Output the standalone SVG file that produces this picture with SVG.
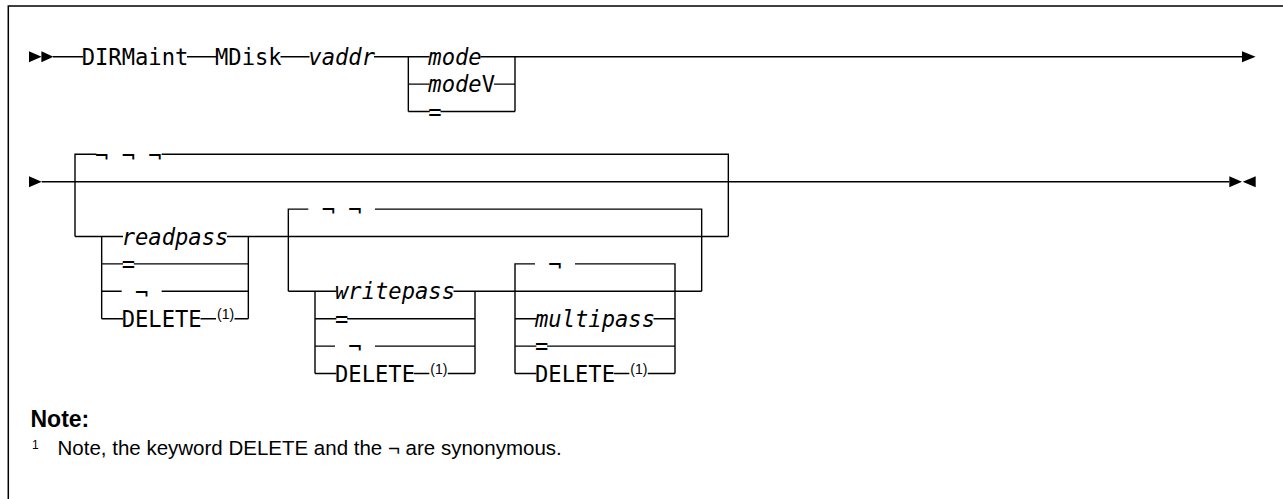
<svg xmlns="http://www.w3.org/2000/svg" width="1283" height="499" viewBox="0 0 1283 499">
<style>
.ln{stroke:#000;stroke-width:1.4;fill:none}
.fr{stroke:#000;stroke-width:1.5;fill:none}
.ar{fill:#000;stroke:none}
.t{font-family:"DejaVu Sans Mono","Liberation Mono",monospace;font-size:22.15px;fill:#000}
.i{font-style:italic}
.sup{font-family:"Liberation Sans",Arial,sans-serif;font-size:14px;fill:#000}
.nb{font-family:"Liberation Sans",Arial,sans-serif;font-size:23px;font-weight:bold;fill:#000}
.nt{font-family:"Liberation Sans",Arial,sans-serif;font-size:20.5px;fill:#000}
.ns{font-family:"Liberation Sans",Arial,sans-serif;font-size:12px;fill:#000}
</style>
<rect width="1283" height="499" fill="#fff"/>
<path class="fr" d="M8.3,499 V6 H1283"/>

<g id="connectors">
  <!-- row 1 -->
  <path class="ln" d="M53,56.7 H83 M187,56.7 H216.5 M280.5,56.7 H309.5 M374,56.7 H429.5 M480.5,56.7 H1242"/>
  <path class="ln" d="M408.33,56.7 V111.5 M515,56.7 V111.5"/>
  <path class="ln" d="M408.33,84.1 H429.5 M494,84.1 H515"/>
  <path class="ln" d="M408.33,111.5 H429.8 M440.5,111.5 H515"/>
  <!-- row 2 main -->
  <path class="ln" d="M41.67,181.7 H1229.3"/>
  <!-- big loop -->
  <path class="ln" d="M75,236.5 V154.3 H96.5 M161.67,154.3 H728.33 V236.5"/>
  <path class="ln" d="M75,236.5 H123 M227,236.5 H728.33"/>
  <!-- readpass branch -->
  <path class="ln" d="M101.67,236.5 V318.7 M248.33,236.5 V318.7"/>
  <path class="ln" d="M101.67,263.9 H123.1 M133.8,263.9 H248.33"/>
  <path class="ln" d="M101.67,291.3 H121.67 M161.67,291.3 H248.33"/>
  <path class="ln" d="M101.67,318.7 H123 M200.5,318.7 H216 M234.5,318.7 H248.33"/>
  <!-- second loop -->
  <path class="ln" d="M288.33,291.3 V209.1 H308.33 M375,209.1 H701.67 V291.3"/>
  <path class="ln" d="M288.33,291.3 H336.5 M453.5,291.3 H701.67"/>
  <!-- writepass branch -->
  <path class="ln" d="M315,291.3 V373.5 M475,291.3 V373.5"/>
  <path class="ln" d="M315,318.7 H336.4 M347.1,318.7 H475"/>
  <path class="ln" d="M315,346.1 H335 M375,346.1 H475"/>
  <path class="ln" d="M315,373.5 H336.3 M413.8,373.5 H429.3 M447.8,373.5 H475"/>
  <!-- third loop -->
  <path class="ln" d="M515,373.5 V263.9 H535 M575,263.9 H675 V373.5"/>
  <path class="ln" d="M515,318.7 H536.5 M653.5,318.7 H675"/>
  <path class="ln" d="M515,346.1 H536.4 M547.1,346.1 H675"/>
  <path class="ln" d="M515,373.5 H536.3 M613.8,373.5 H629.3 M647.8,373.5 H675"/>
  <!-- arrowheads -->
  <polygon class="ar" points="29,51.2 41.6,56.7 29,62.2"/>
  <polygon class="ar" points="41.4,51.2 53.4,56.7 41.4,62.2"/>
  <polygon class="ar" points="1242,51.2 1255.6,56.7 1242,62.2"/>
  <polygon class="ar" points="29,176.2 41.7,181.7 29,187.2"/>
  <polygon class="ar" points="1229.3,176.2 1242,181.7 1229.3,187.2"/>
  <polygon class="ar" points="1255.7,176.2 1242.7,181.7 1255.7,187.2"/>
</g>

<g id="n-dirmaint"><text class="t" x="81.67" y="64.7">DIRMaint</text></g>
<g id="n-mdisk"><text class="t" x="215" y="64.7">MDisk</text></g>
<g id="n-vaddr"><text class="t i" x="308.33" y="64.7">vaddr</text></g>
<g id="n-mode"><text class="t i" x="428.33" y="64.7">mode</text></g>
<g id="n-modev"><text class="t" x="428.33" y="92.1"><tspan class="i">mode</tspan>V</text></g>
<g id="n-mode-eq"><text class="t" x="428.33" y="119.5">=</text></g>

<g id="n-default1">
  <text class="t" x="95" y="163.6">¬</text>
  <text class="t" x="121.67" y="163.6">¬</text>
  <text class="t" x="148.33" y="163.6">¬</text>
</g>
<g id="n-readpass"><text class="t i" x="121.67" y="244.5">readpass</text></g>
<g id="n-read-eq"><text class="t" x="121.67" y="271.9">=</text></g>
<g id="n-read-not"><text class="t" x="135" y="300.6">¬</text></g>
<g id="n-read-delete"><text class="t" x="121.67" y="326.7">DELETE</text><text class="sup" x="217" y="318.7">(1)</text></g>

<g id="n-default2">
  <text class="t" x="321.67" y="218.4">¬</text>
  <text class="t" x="348.33" y="218.4">¬</text>
</g>
<g id="n-writepass"><text class="t i" x="335" y="299.3">writepass</text></g>
<g id="n-write-eq"><text class="t" x="335" y="326.7">=</text></g>
<g id="n-write-not"><text class="t" x="348.33" y="355.4">¬</text></g>
<g id="n-write-delete"><text class="t" x="335" y="381.5">DELETE</text><text class="sup" x="430.3" y="373.5">(1)</text></g>

<g id="n-default3"><text class="t" x="548.33" y="273.2">¬</text></g>
<g id="n-multipass"><text class="t i" x="535" y="326.7">multipass</text></g>
<g id="n-multi-eq"><text class="t" x="535" y="354.1">=</text></g>
<g id="n-multi-delete"><text class="t" x="535" y="381.5">DELETE</text><text class="sup" x="630.3" y="373.5">(1)</text></g>

<g id="n-note">
  <text class="nb" x="30.5" y="426.5">Note:</text>
  <text class="ns" x="32" y="449">1</text>
  <text class="nt" x="57.5" y="455">Note, the keyword DELETE and the ¬ are synonymous.</text>
</g>
</svg>
